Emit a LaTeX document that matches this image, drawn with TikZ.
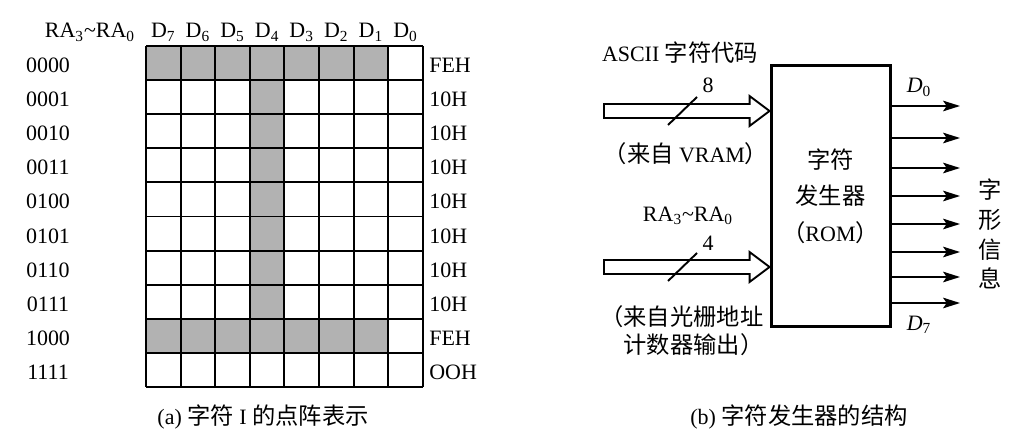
\documentclass[tikz,border=0pt]{standalone}
\usepackage{fontspec}
\setmainfont{Liberation Serif}
\newfontfamily\cjk[Scale=1.06]{Noto Sans CJK SC}
\usetikzlibrary{arrows.meta}
\usetikzlibrary{calc}
\newcommand{\zh}[1]{{\cjk #1}}

\begin{document}
\begin{tikzpicture}[x=0.02cm,y=-0.02cm,>/.tip={Stealth[length=9.6pt,width=6pt,inset=2pt]},
	every node/.style={font=\fontsize{12.5}{15}\selectfont,inner sep=0pt},
	cell/.style={line width=1.1pt},
	lit/.style={fill=black!30},
	busarrow/.style={line width=1.1pt,line join=miter},
	dline/.style={line width=1.1pt}]
	\useasboundingbox (0,0) rectangle (1026,442);
	\foreach \c in {0,...,6} {
		\fill[lit] (146+34.6*\c,46) rectangle ++(34.6,34.1);
		\fill[lit] (146+34.6*\c,46+34.1*8) rectangle ++(34.6,34.1);
	}
	\fill[lit] (146+34.6*3,46+34.1) rectangle ++(34.6,34.1*7);
	\foreach \c in {0,...,8} \draw[cell] (146+34.6*\c,46) -- ++(0,341);
	\foreach \r in {0,...,10} \draw[cell] (146,46+34.1*\r) -- ++(276.8,0);
	\node (ra) [anchor=base] at (90,38) {RA\textsubscript{3}\textasciitilde RA\textsubscript{0}};
	\foreach \d [count=\c from 0] in {7,6,5,4,3,2,1,0}
		\node (d\d) [anchor=base] at (163.3+34.6*\c,38) {D\textsubscript{\d}};
	\foreach \a/\h [count=\r from 0] in {0000/FEH,0001/10H,0010/10H,0011/10H,0100/10H,0101/10H,0110/10H,0111/10H,1000/FEH,1111/OOH} {
		\node (addr\r) [anchor=base] at (48,72.5+34.1*\r) {\a};
		\node (hex\r) [anchor=base west] at (429,72.5+34.1*\r) {\h};
	}
	\node (capa) [anchor=base] at (263,424) {(a) \zh{字符} I \zh{的点阵表示}};

	\node (rom) [draw,line width=1.7pt,minimum width=2.38cm,minimum height=5.24cm,align=center,font=\fontsize{12.5}{20.7}\selectfont] at (830.5,196) {\zh{字符}\\\zh{发生器}\\\zh{（}ROM\zh{）}};
	\coordinate (in1) at (604,111);
	\coordinate (in2) at (604,267);
	\draw[busarrow] (in1) ++(0,-7) -- ($(rom.west |- in1)+(-20,-7)$) -- ++(0,-8) -- (rom.west |- in1) -- ++(-20,15) -- ++(0,-8) -- ($(in1)+(0,7)$) -- cycle;
	\draw[busarrow] (in2) ++(0,-7) -- ($(rom.west |- in2)+(-20,-7)$) -- ++(0,-8) -- (rom.west |- in2) -- ++(-20,15) -- ++(0,-8) -- ($(in2)+(0,7)$) -- cycle;
	\draw[dline] ($(in1)+(64,14)$) -- ($(in1)+(93,-14)$);
	\draw[dline] ($(in2)+(64,14)$) -- ($(in2)+(93,-14)$);
	\node (w8) [anchor=base] at (708,93) {8};
	\node (w4) [anchor=base] at (708,250) {4};
	\node (ascii) [anchor=base] at (680,62) {ASCII \zh{字符代码}};
	\node (vram) [anchor=base] at (686,162) {\zh{（来自} VRAM\zh{）}};
	\node (raddr) [anchor=base] at (688,221) {RA\textsubscript{3}\textasciitilde RA\textsubscript{0}};
	\node (cnt) [anchor=west,align=left,font=\fontsize{12.5}{15.9}\selectfont] at (600,331) {\zh{（来自光栅地址}\\\zh{\hphantom{（}计数器输出）}};
	\foreach \y [count=\i from 0] in {106,138,168,196,224,252,277,303} {
		\coordinate (q\i) at (960,\y);
		\draw[dline,->] (rom.east |- q\i) -- (q\i);
	}
	\node (dz) [anchor=base] at (919,93) {\textit{D}\textsubscript{0}};
	\node (ds) [anchor=base] at (919,330) {\textit{D}\textsubscript{7}};
	\node (info) [align=center,font=\fontsize{12.5}{17}\selectfont] at (990,234) {\zh{字}\\\zh{形}\\\zh{信}\\\zh{息}};
	\node (capb) [anchor=base] at (799,424) {(b) \zh{字符发生器的结构}};
\end{tikzpicture}
\end{document}
